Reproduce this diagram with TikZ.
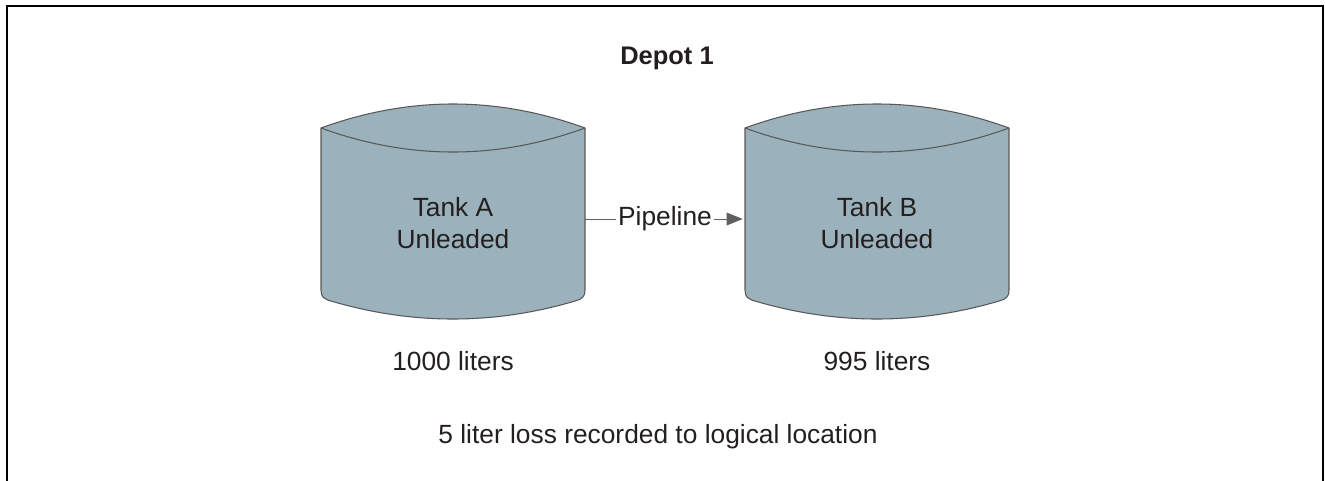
\documentclass[tikz,border=0pt]{standalone}
\usepackage{fontspec}
\setmainfont{Liberation Sans}
\usetikzlibrary{arrows.meta,calc}
\definecolor{tankfill}{RGB}{155,178,188}
\definecolor{tankedge}{RGB}{88,88,88}
\definecolor{pipegray}{RGB}{95,95,95}
\definecolor{ink}{RGB}{35,31,32}
\tikzset{
  every node/.style={text=ink},
  plain/.style={font=\fontsize{19.75}{23.5}\selectfont, inner sep=0pt},
  heading/.style={font=\fontsize{19.1}{23}\selectfont\bfseries, inner sep=0pt},
  tanktext/.style={plain, align=center},
  pipe/.style={draw=pipegray, line width=0.75pt,
    -{Triangle[length=12pt,width=9.5pt]}, shorten >=1.5pt},
  pipelabel/.style={plain, fill=white, inner xsep=1.5pt, inner ysep=1pt},
  frame/.style={line width=1.5pt, draw=black},
  tank/.pic={
    % cylinder body: domed top, straight sides, rounded bottom
    \path[fill=tankfill, draw=tankedge, line width=0.8pt]
      (-132,-83) .. controls (-44,-115) and (44,-115) .. (132,-83)
      -- (132,79) .. controls (132,86) and (129,88) .. (122,90)
      .. controls (41,114) and (-41,114) .. (-122,90)
      .. controls (-129,88) and (-132,86) .. (-132,79) -- cycle;
    % front rim of the lid
    \draw[tankedge, line width=0.8pt]
      (-132,-83) .. controls (-44,-51) and (44,-51) .. (132,-83);
    \node[minimum width=198pt, minimum height=160.5pt, inner sep=0pt] (-body) at (0,0) {};
  },
}
\begin{document}
\begin{tikzpicture}[x=0.75pt, y=-0.75pt]
  \useasboundingbox (0,0) rectangle (1325,480);

  % open frame around the depot
  \draw[frame] (7,481) -- (7,6) -- (1323,6) -- (1323,481);

  \node[heading, anchor=base] (depot) at (667,64) {Depot 1};

  \pic (tA) at (453,211) {tank};
  \pic (tB) at (877,211) {tank};

  \node[tanktext] (tA-text) at (453,223) {Tank A\\Unleaded};
  \node[tanktext] (tB-text) at (877,223) {Tank B\\Unleaded};

  \draw[pipe] ($(tA-body.east)+(0,8)$) -- node[pipelabel] (pipeline) {Pipeline}
              ($(tB-body.west)+(0,8)$);

  \node[plain, anchor=base] (volA) at (453,370) {1000 liters};
  \node[plain, anchor=base] (volB) at (877,370) {995 liters};

  \node[plain, anchor=base] (loss) at (658,443) {5 liter loss recorded to logical location};
\end{tikzpicture}
\end{document}
